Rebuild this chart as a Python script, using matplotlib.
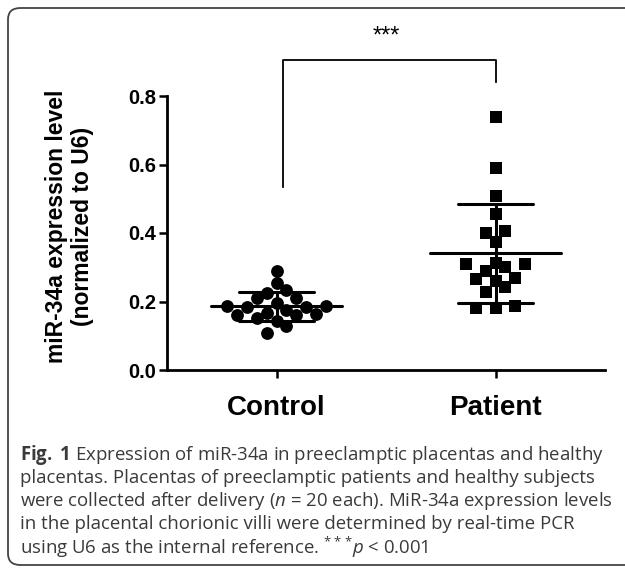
# miR-34a expression, control vs patient placentas (scatter with mean +/- SD)

import matplotlib.pyplot as plt
from matplotlib.patches import FancyBboxPatch
import numpy as np

# Data
groups = ['Control', 'Patient']
control = [0.290, 0.254, 0.234, 0.225, 0.210, 0.210, 0.196, 0.187, 0.187, 0.184,
           0.184, 0.175, 0.166, 0.163, 0.160, 0.160, 0.152, 0.143, 0.128, 0.108]
patient = [0.740, 0.590, 0.508, 0.455, 0.406, 0.400, 0.374, 0.312, 0.309, 0.309,
           0.300, 0.289, 0.269, 0.266, 0.260, 0.242, 0.228, 0.187, 0.181, 0.181]
yticks = [0.0, 0.2, 0.4, 0.6, 0.8]
caption = [
    r"$\mathbf{Fig.}$ $\mathbf{1}$ Expression of miR-34a in preeclamptic placentas and healthy",
    "placentas. Placentas of preeclamptic patients and healthy subjects",
    r"were collected after delivery ($\mathit{n}$ = 20 each). MiR-34a expression levels",
    "in the placental chorionic villi were determined by real-time PCR",
    r"using U6 as the internal reference. $^{***}\!\mathit{p}$ < 0.001",
]

plt.rcParams['font.family'] = ['Liberation Sans', 'DejaVu Sans']
plt.rcParams['mathtext.fontset'] = 'custom'
plt.rcParams['mathtext.rm'] = 'Open Sans'
plt.rcParams['mathtext.it'] = 'Open Sans:italic'
plt.rcParams['mathtext.bf'] = 'Open Sans:bold'


def swarm_offsets(vals, tol=0.021, step=0.09):
    # simple row binning: points close in value are spread side by side
    vals = np.asarray(vals)
    order = np.argsort(vals)
    offs = np.zeros(len(vals))
    row = [order[0]]
    rows = []
    for i in order[1:]:
        if vals[i] - vals[row[0]] < tol:
            row.append(i)
        else:
            rows.append(row)
            row = [i]
    rows.append(row)
    for r in rows:
        n = len(r)
        pos = (np.arange(n) - (n - 1) / 2) * step
        pos = sorted(pos, key=abs)
        for k, idx in enumerate(r):
            offs[idx] = pos[k]
    return offs


fig = plt.figure(figsize=(6.25, 5.7), dpi=100)
ax = fig.add_axes([167 / 625, 1 - 370 / 570, 438 / 625, 274 / 570])

data = [control, patient]
markers = ['o', 's']
sizes = [85, 72]
for i, vals in enumerate(data):
    x = i + swarm_offsets(vals)
    ax.scatter(x, vals, marker=markers[i], s=sizes[i], color='black',
               linewidths=0, zorder=3, clip_on=False)
    m = np.mean(vals)
    sd = np.std(vals, ddof=1)
    ax.plot([i - 0.3, i + 0.3], [m, m], color='black', lw=2.2, zorder=4,
            solid_capstyle='round')
    for v in (m - sd, m + sd):
        ax.plot([i - 0.17, i + 0.17], [v, v], color='black', lw=2.2, zorder=4,
                solid_capstyle='round')
    ax.plot([i, i], [m - sd, m + sd], color='black', lw=2.2, zorder=4)

# significance bracket
ax.plot([0.03, 0.03, 1.0, 1.0], [0.535, 0.905, 0.905, 0.84], color='black',
        lw=1.3, clip_on=False)
ax.text(0.5, 0.975, '***', ha='center', va='center', fontsize=17,
        clip_on=False)

ax.set_xlim(-0.5, 1.5)
ax.set_ylim(0, 0.8)
ax.set_xticks([0, 1])
ax.set_xticklabels(groups, fontsize=20, fontweight='bold')
ax.set_yticks(yticks)
ax.set_yticklabels([f'{v:.1f}' for v in yticks], fontsize=14.5, fontweight='bold')
ax.tick_params(axis='both', direction='out', width=1.8, length=6, colors='black')
ax.tick_params(axis='x', pad=12)
ax.tick_params(axis='y', pad=2)
for s in ['top', 'right']:
    ax.spines[s].set_visible(False)
for s in ['left', 'bottom']:
    ax.spines[s].set_linewidth(2)

fig.text(57 / 625, 1 - 226 / 570, 'miR-34a expression level', rotation=90,
         ha='center', va='center', fontsize=16.5, fontweight='bold')
fig.text(83 / 625, 1 - 226 / 570, '(normalized to U6)', rotation=90,
         ha='center', va='center', fontsize=16.5, fontweight='bold')

# caption
for k, line in enumerate(caption):
    fig.text(20 / 625, 1 - (455 + 23 * k) / 570, line, ha='left', va='center',
             fontsize=13.4, color='#3a3a3a', family='Open Sans')

# rounded frame around the figure
frame = FancyBboxPatch((8 / 625, 5 / 570), 640 / 625, 557 / 570,
                       boxstyle='round,pad=0,rounding_size=0.02',
                       transform=fig.transFigure, fill=False,
                       edgecolor='#444444', lw=1.3, clip_on=False)
fig.patches.append(frame)

fig.savefig('out.png', dpi=100)
